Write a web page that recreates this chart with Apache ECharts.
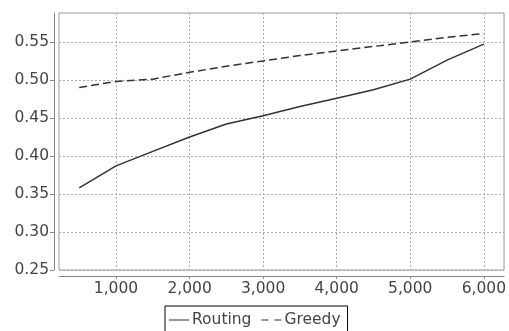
<!DOCTYPE html>
<html><head><meta charset="utf-8">
<script src="https://cdn.jsdelivr.net/npm/echarts@6/dist/echarts.min.js"></script>
<style>html,body{margin:0;padding:0;background:#fff}#c{width:509px;height:331px}</style>
</head><body><div id="c"></div>
<script>
const xValues = [500,1000,1500,2000,2500,3000,3500,4000,4500,5000,5500,6000];
const routing = [0.358,0.387,0.406,0.425,0.442,0.453,0.465,0.476,0.487,0.501,0.526,0.547];
const greedy  = [0.490,0.498,0.501,0.510,0.518,0.525,0.532,0.538,0.544,0.550,0.556,0.561];
const xTicks = [1000,2000,3000,4000,5000,6000];
const yTicks = [0.25,0.30,0.35,0.40,0.45,0.50,0.55];
const seriesNames = ['Routing','Greedy'];

const chart = echarts.init(document.getElementById('c'), null, {renderer:'canvas'});
const font = 'DejaVu Sans';
chart.setOption({
  animation:false,
  backgroundColor:'#fff',
  grid:{left:59, top:13, width:446, height:257, show:true, borderColor:'#999', borderWidth:1, containLabel:false},
  xAxis:{
    type:'value', min:225, max:6275, offset:6,
    axisLine:{show:true, onZero:false, lineStyle:{color:'#888'}},
    axisTick:{show:true, length:3, customValues:xTicks, lineStyle:{color:'#888'}},
    axisLabel:{customValues:xTicks, color:'#444', fontFamily:font, fontSize:15.5, margin:5,
      formatter:v=>v.toLocaleString('en-US')},
    splitLine:{show:true, lineStyle:{color:'#aaa', type:[2,2]}}
  },
  yAxis:{
    type:'value', min:0.25, max:0.588, offset:5,
    axisLine:{show:true, onZero:false, lineStyle:{color:'#888'}},
    axisTick:{show:true, length:4, customValues:yTicks, lineStyle:{color:'#888'}},
    axisLabel:{customValues:yTicks, color:'#444', fontFamily:font, fontSize:15.5, margin:5,
      formatter:v=>v.toFixed(2)},
    splitLine:{show:true, lineStyle:{color:'#aaa', type:[2,2]}}
  },
  legend:{
    left:165, top:306,
    data:[
      {name:seriesNames[0], icon:'path://M0,0H20V1H0Z'},
      {name:seriesNames[1], icon:'path://M0,0H7V1H0Z M13,0H20V1H13Z'}
    ],
    borderColor:'#000', borderWidth:1, padding:[6,7,8,4], itemGap:10,
    itemWidth:20, itemHeight:1.4,
    itemStyle:{color:'#333'},
    textStyle:{fontFamily:font, fontSize:15.5, color:'#444', padding:[0,0,0,-2]}
  },
  series:[
    {name:seriesNames[0], type:'line', symbol:'none', data:xValues.map((x,i)=>[x,routing[i]]),
      lineStyle:{color:'#333', width:1.5}, itemStyle:{color:'#333'}},
    {name:seriesNames[1], type:'line', symbol:'none', data:xValues.map((x,i)=>[x,greedy[i]]),
      lineStyle:{color:'#333', width:1.5, type:[8,4]}, itemStyle:{color:'#333'}}
  ]
});
</script></body></html>
